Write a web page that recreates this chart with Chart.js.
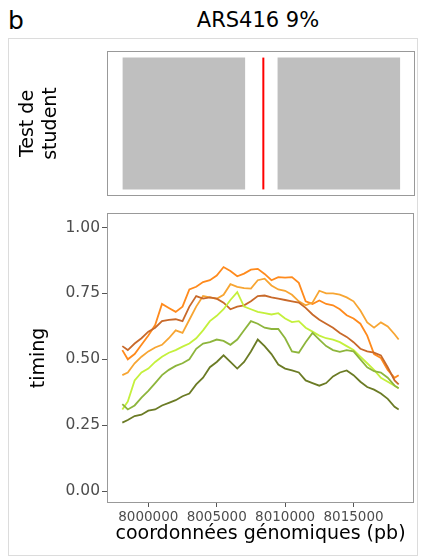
<!DOCTYPE html>
<html>
<head>
<meta charset="utf-8">
<script src="https://cdn.jsdelivr.net/npm/chart.js@4.4.1/dist/chart.umd.min.js"></script>
<style>
  body { margin: 0; background: #fff; font-family: "DejaVu Sans", sans-serif; }
  #wrap { position: relative; width: 423px; height: 557px; overflow: hidden; }
  canvas { position: absolute; left: 0; top: 0; }
  #frame { position: absolute; left: 8px; top: 38px; width: 408px; height: 516px; border: 1px solid #dcdcdc; }
  #lettre { position: absolute; left: 8px; top: 8px; font-size: 25px; line-height: 25px; color: #000; }
  #titre { position: absolute; left: 158px; top: 10px; width: 200px; text-align: center; font-size: 21px; line-height: 21px; color: #000; }
</style>
</head>
<body>
<div id="wrap">
  <div id="frame"></div>
  <div id="lettre">b</div>
  <div id="titre">ARS416 9%</div>
  <canvas id="testChart" width="423" height="557"></canvas>
  <canvas id="timingChart" width="423" height="557"></canvas>
</div>
<script>
// positions génomiques (pb)
const positions = [7998100, 7998500, 7999000, 7999500, 8000000, 8000500, 8001000, 8001500, 8002000, 8002500,
  8003000, 8003500, 8004000, 8004500, 8005000, 8005500, 8006000, 8006500, 8007000, 8007500,
  8008000, 8008500, 8009000, 8009500, 8010000, 8010500, 8011000, 8011500, 8012000, 8012500,
  8013000, 8013500, 8014000, 8014500, 8015000, 8015500, 8016000, 8016500, 8017000, 8017500,
  8018000, 8018300];

// timing par échantillon
const timingOliveFonce = [0.26, 0.27, 0.285, 0.29, 0.305, 0.31, 0.325, 0.335, 0.345, 0.36,
  0.37, 0.405, 0.43, 0.47, 0.49, 0.515, 0.49, 0.465, 0.49, 0.53,
  0.575, 0.55, 0.52, 0.48, 0.465, 0.458, 0.45, 0.42, 0.41, 0.40,
  0.41, 0.435, 0.45, 0.458, 0.44, 0.415, 0.395, 0.385, 0.37, 0.35,
  0.32, 0.31];
const timingOlive = [0.33, 0.31, 0.325, 0.355, 0.38, 0.41, 0.44, 0.46, 0.475, 0.485,
  0.50, 0.54, 0.56, 0.565, 0.575, 0.57, 0.555, 0.575, 0.61, 0.645,
  0.635, 0.62, 0.615, 0.615, 0.58, 0.53, 0.525, 0.565, 0.60, 0.575,
  0.55, 0.535, 0.528, 0.535, 0.53, 0.50, 0.47, 0.455, 0.45, 0.43,
  0.40, 0.39];
const timingVertClair = [0.31, 0.34, 0.42, 0.45, 0.465, 0.49, 0.51, 0.525, 0.535, 0.548,
  0.56, 0.58, 0.61, 0.645, 0.665, 0.69, 0.725, 0.755, 0.70, 0.69,
  0.68, 0.675, 0.67, 0.675, 0.655, 0.641, 0.645, 0.62, 0.605, 0.59,
  0.58, 0.575, 0.565, 0.55, 0.535, 0.51, 0.485, 0.46, 0.43, 0.415,
  0.40, 0.39];
const timingBrun = [0.55, 0.535, 0.56, 0.58, 0.605, 0.62, 0.645, 0.65, 0.652, 0.645,
  0.70, 0.74, 0.73, 0.735, 0.73, 0.715, 0.69, 0.70, 0.705, 0.72,
  0.74, 0.742, 0.735, 0.73, 0.725, 0.72, 0.715, 0.695, 0.67, 0.65,
  0.635, 0.62, 0.60, 0.585, 0.565, 0.54, 0.53, 0.525, 0.515, 0.47,
  0.42, 0.405];
const timingOrange = [0.535, 0.50, 0.52, 0.555, 0.59, 0.63, 0.71, 0.695, 0.68, 0.70,
  0.765, 0.775, 0.793, 0.80, 0.818, 0.85, 0.835, 0.815, 0.825, 0.84,
  0.843, 0.824, 0.80, 0.812, 0.81, 0.812, 0.79, 0.72, 0.71, 0.723,
  0.71, 0.705, 0.69, 0.667, 0.655, 0.635, 0.59, 0.52, 0.505, 0.46,
  0.43, 0.44];
const timingOrangeClair = [0.44, 0.45, 0.485, 0.51, 0.53, 0.545, 0.555, 0.58, 0.61, 0.60,
  0.65, 0.70, 0.74, 0.735, 0.73, 0.745, 0.785, 0.775, 0.77, 0.768,
  0.80, 0.806, 0.78, 0.765, 0.76, 0.745, 0.72, 0.705, 0.715, 0.76,
  0.75, 0.75, 0.745, 0.735, 0.72, 0.685, 0.64, 0.62, 0.64, 0.625,
  0.595, 0.575];

// test de student : zones et position de l'origine
const zoneDebut = [7998100, 8009390];
const zoneFin = [8007060, 8018350];
const origine = 8008370;

const xTicks = [8000000, 8005000, 8010000, 8015000];
const yTicks = [0, 0.25, 0.5, 0.75, 1];

const xMin = 7996980, xMax = 8019420;
const police = "'DejaVu Sans', sans-serif";

// cadre gris autour des panneaux
const cadre = {
  id: 'cadre',
  afterDraw(chart) {
    const a = chart.chartArea, c = chart.ctx;
    c.save();
    c.strokeStyle = '#999';
    c.lineWidth = 1;
    c.strokeRect(a.left + 0.5, a.top + 0.5, a.width - 1, a.height - 1);
    c.restore();
  }
};

function serie(valeurs, couleur) {
  return {
    data: positions.map((x, i) => ({ x: x, y: valeurs[i] })),
    borderColor: couleur,
    borderWidth: 1.8,
    pointRadius: 0,
    fill: false,
    tension: 0
  };
}

// panneau du haut
const zones = zoneDebut.map((d, i) => ({
  data: [{ x: d, y: 1 }, { x: zoneFin[i], y: 1 }],
  borderWidth: 0,
  borderColor: 'rgba(0,0,0,0)',
  backgroundColor: '#bfbfbf',
  pointRadius: 0,
  fill: 'origin'
}));

new Chart(document.getElementById('testChart'), {
  type: 'line',
  data: {
    datasets: [...zones, {
      data: [{ x: origine, y: 0 }, { x: origine, y: 1 }],
      borderColor: '#ff0000',
      borderWidth: 2,
      pointRadius: 0,
      fill: false
    }]
  },
  options: {
    responsive: false,
    animation: false,
    layout: { padding: { left: 13, right: 8, top: 51, bottom: 361 } },
    plugins: { legend: { display: false }, tooltip: { enabled: false } },
    scales: {
      x: { type: 'linear', min: xMin, max: xMax, display: false },
      y: {
        min: -0.05, max: 1.05,
        afterFit: ax => { ax.width = 94; },
        ticks: { display: false },
        grid: { display: false },
        border: { display: false },
        title: {
          display: true,
          text: ['Test de', 'student'],
          color: '#000',
          font: { family: police, size: 19 },
          lineHeight: 1.15,
          padding: { top: 4, bottom: 4 }
        }
      }
    }
  },
  plugins: [cadre]
});

// panneau du bas
new Chart(document.getElementById('timingChart'), {
  type: 'line',
  data: {
    datasets: [
      serie(timingOliveFonce, '#6b7b25'),
      serie(timingOlive, '#8db53c'),
      serie(timingVertClair, '#c4f03c'),
      serie(timingBrun, '#c8692a'),
      serie(timingOrangeClair, '#f7a532'),
      serie(timingOrange, '#ff8a1c')
    ]
  },
  options: {
    responsive: false,
    animation: false,
    layout: { padding: { left: 24, right: 9, top: 213, bottom: 0 } },
    plugins: { legend: { display: false }, tooltip: { enabled: false } },
    scales: {
      x: {
        type: 'linear', min: xMin, max: xMax,
        afterBuildTicks: ax => { ax.ticks = xTicks.map(v => ({ value: v })); },
        afterFit: ax => { ax.height = 54; },
        ticks: {
          callback: v => String(v),
          color: '#4d4d4d',
          font: { family: police, size: 13.5 },
          padding: 2, maxRotation: 0, autoSkip: false
        },
        grid: { drawOnChartArea: false, drawTicks: true, tickLength: 4, color: '#555' },
        border: { display: false },
        title: {
          display: true,
          text: 'coordonnées génomiques (pb)',
          color: '#000',
          font: { family: police, size: 19 },
          padding: { top: 0, bottom: 12 }
        }
      },
      y: {
        min: -0.045, max: 1.055,
        afterBuildTicks: ax => { ax.ticks = yTicks.map(v => ({ value: v })); },
        afterFit: ax => { ax.width = 83; },
        ticks: {
          callback: v => v.toFixed(2),
          color: '#4d4d4d',
          font: { family: police, size: 15.5 },
          padding: 2
        },
        grid: { drawOnChartArea: false, drawTicks: true, tickLength: 5, color: '#555' },
        border: { display: false },
        title: {
          display: true,
          text: 'timing',
          color: '#000',
          font: { family: police, size: 19 },
          padding: { top: 4, bottom: 4 }
        }
      }
    }
  },
  plugins: [cadre]
});
</script>
</body>
</html>
